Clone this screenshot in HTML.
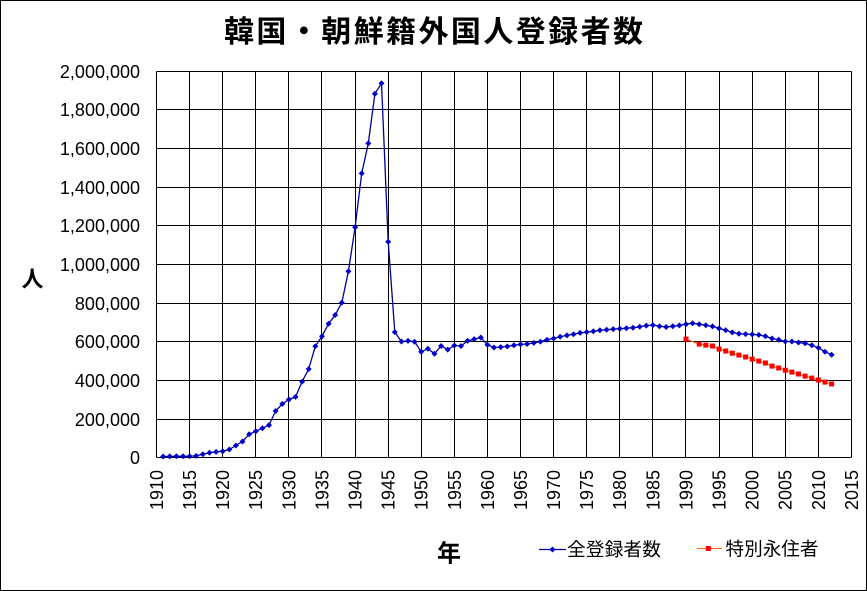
<!DOCTYPE html>
<html><head><meta charset="utf-8"><style>
html,body{margin:0;padding:0;background:#fff;}
svg{display:block;}
.num{font-family:"Liberation Sans",Arial,sans-serif;font-size:18px;fill:#000;}
.jp{font-family:"Liberation Sans","Noto Sans CJK JP",sans-serif;fill:#000;}
</style></head><body>
<svg width="867" height="591" viewBox="0 0 867 591" xmlns="http://www.w3.org/2000/svg">
<rect x="0.5" y="0.5" width="866" height="590" fill="#fff" stroke="#000" stroke-width="1"/>
<text class="jp" x="224" y="42" font-size="30" font-weight="bold" textLength="419" lengthAdjust="spacing">韓国・朝鮮籍外国人登録者数</text>
<g stroke="#000" stroke-width="1" fill="none" shape-rendering="crispEdges">
<path d="M156.5 71.5H851.5M156.5 109.5H851.5M156.5 148.5H851.5M156.5 187.5H851.5M156.5 225.5H851.5M156.5 264.5H851.5M156.5 303.5H851.5M156.5 341.5H851.5M156.5 380.5H851.5M156.5 419.5H851.5M156.5 457.5H851.5"/>
<path d="M156.5 71.5V457.5M189.5 71.5V457.5M222.5 71.5V457.5M255.5 71.5V457.5M288.5 71.5V457.5M321.5 71.5V457.5M355.5 71.5V457.5M388.5 71.5V457.5M421.5 71.5V457.5M454.5 71.5V457.5M487.5 71.5V457.5M520.5 71.5V457.5M553.5 71.5V457.5M586.5 71.5V457.5M619.5 71.5V457.5M652.5 71.5V457.5M685.5 71.5V457.5M719.5 71.5V457.5M752.5 71.5V457.5M785.5 71.5V457.5M818.5 71.5V457.5M851.5 71.5V457.5"/>
</g>
<g class="num" text-anchor="end">
<text x="140" y="78">2,000,000</text>
<text x="140" y="116">1,800,000</text>
<text x="140" y="155">1,600,000</text>
<text x="140" y="194">1,400,000</text>
<text x="140" y="232">1,200,000</text>
<text x="140" y="271">1,000,000</text>
<text x="140" y="310">800,000</text>
<text x="140" y="348">600,000</text>
<text x="140" y="387">400,000</text>
<text x="140" y="426">200,000</text>
<text x="140" y="464">0</text>
</g>
<g class="num" text-anchor="end">
<text transform="translate(156.5,470) rotate(-90)" y="6.4">1910</text>
<text transform="translate(189.6,470) rotate(-90)" y="6.4">1915</text>
<text transform="translate(222.7,470) rotate(-90)" y="6.4">1920</text>
<text transform="translate(255.8,470) rotate(-90)" y="6.4">1925</text>
<text transform="translate(288.9,470) rotate(-90)" y="6.4">1930</text>
<text transform="translate(322.0,470) rotate(-90)" y="6.4">1935</text>
<text transform="translate(355.1,470) rotate(-90)" y="6.4">1940</text>
<text transform="translate(388.2,470) rotate(-90)" y="6.4">1945</text>
<text transform="translate(421.3,470) rotate(-90)" y="6.4">1950</text>
<text transform="translate(454.4,470) rotate(-90)" y="6.4">1955</text>
<text transform="translate(487.5,470) rotate(-90)" y="6.4">1960</text>
<text transform="translate(520.5,470) rotate(-90)" y="6.4">1965</text>
<text transform="translate(553.6,470) rotate(-90)" y="6.4">1970</text>
<text transform="translate(586.7,470) rotate(-90)" y="6.4">1975</text>
<text transform="translate(619.8,470) rotate(-90)" y="6.4">1980</text>
<text transform="translate(652.9,470) rotate(-90)" y="6.4">1985</text>
<text transform="translate(686.0,470) rotate(-90)" y="6.4">1990</text>
<text transform="translate(719.1,470) rotate(-90)" y="6.4">1995</text>
<text transform="translate(752.2,470) rotate(-90)" y="6.4">2000</text>
<text transform="translate(785.3,470) rotate(-90)" y="6.4">2005</text>
<text transform="translate(818.4,470) rotate(-90)" y="6.4">2010</text>
<text transform="translate(851.5,470) rotate(-90)" y="6.4">2015</text>
</g>
<text class="jp" x="32.5" y="287" font-size="22" font-weight="bold" text-anchor="middle">人</text>
<text class="jp" x="449" y="561.5" font-size="24" font-weight="bold" text-anchor="middle">年</text>

<polyline fill="none" stroke="#000099" stroke-width="1.3" stroke-linejoin="round" points="163.1,456.5 169.7,456.4 176.4,456.3 183.0,456.3 189.6,456.2 196.2,455.9 202.8,454.2 209.5,452.7 216.1,451.9 222.7,451.2 229.3,449.5 235.9,445.5 242.5,441.5 249.2,434.2 255.8,431.2 262.4,428.3 269.0,425.1 275.6,411.0 282.3,403.9 288.9,399.5 295.5,396.9 302.1,381.6 308.7,369.0 315.3,346.3 322.0,336.2 328.6,323.7 335.2,315.0 341.8,302.6 348.4,271.4 355.1,227.2 361.7,173.4 368.3,143.4 374.9,93.7 381.5,83.2 388.2,241.7 394.8,332.1 401.4,341.5 408.0,340.9 414.6,341.7 421.2,351.8 427.9,348.8 434.5,353.7 441.1,346.0 447.7,349.6 454.3,345.5 461.0,346.0 467.6,340.9 474.2,339.1 480.8,337.5 487.4,344.8 494.0,347.5 500.7,347.1 507.3,346.4 513.9,345.3 520.5,344.4 527.1,344.0 533.8,342.9 540.4,341.6 547.0,339.8 553.6,338.5 560.2,336.8 566.9,335.4 573.5,334.2 580.1,332.9 586.7,332.1 593.3,331.3 599.9,330.3 606.6,329.8 613.2,329.1 619.8,328.7 626.4,328.2 633.0,327.7 639.7,326.8 646.3,325.6 652.9,325.1 659.5,326.2 666.1,327.0 672.8,326.3 679.4,325.4 686.0,324.2 692.6,323.2 699.2,324.2 705.8,325.3 712.5,326.4 719.1,328.4 725.7,330.2 732.3,332.4 738.9,333.7 745.6,334.1 752.2,334.4 758.8,334.9 765.4,336.3 772.0,338.5 778.7,339.8 785.3,341.5 791.9,341.5 798.5,342.5 805.1,343.3 811.8,345.3 818.4,347.8 825.0,351.7 831.6,354.7"/>
<g fill="#0000cc">
<path d="M163.1,453.5l3,3l-3,3l-3,-3zM169.7,453.4l3,3l-3,3l-3,-3zM176.4,453.3l3,3l-3,3l-3,-3zM183.0,453.3l3,3l-3,3l-3,-3zM189.6,453.2l3,3l-3,3l-3,-3zM196.2,452.9l3,3l-3,3l-3,-3zM202.8,451.2l3,3l-3,3l-3,-3zM209.5,449.7l3,3l-3,3l-3,-3zM216.1,448.9l3,3l-3,3l-3,-3zM222.7,448.2l3,3l-3,3l-3,-3zM229.3,446.5l3,3l-3,3l-3,-3zM235.9,442.5l3,3l-3,3l-3,-3zM242.5,438.5l3,3l-3,3l-3,-3zM249.2,431.2l3,3l-3,3l-3,-3zM255.8,428.2l3,3l-3,3l-3,-3zM262.4,425.3l3,3l-3,3l-3,-3zM269.0,422.1l3,3l-3,3l-3,-3zM275.6,408.0l3,3l-3,3l-3,-3zM282.3,400.9l3,3l-3,3l-3,-3zM288.9,396.5l3,3l-3,3l-3,-3zM295.5,393.9l3,3l-3,3l-3,-3zM302.1,378.6l3,3l-3,3l-3,-3zM308.7,366.0l3,3l-3,3l-3,-3zM315.3,343.3l3,3l-3,3l-3,-3zM322.0,333.2l3,3l-3,3l-3,-3zM328.6,320.7l3,3l-3,3l-3,-3zM335.2,312.0l3,3l-3,3l-3,-3zM341.8,299.6l3,3l-3,3l-3,-3zM348.4,268.4l3,3l-3,3l-3,-3zM355.1,224.2l3,3l-3,3l-3,-3zM361.7,170.4l3,3l-3,3l-3,-3zM368.3,140.4l3,3l-3,3l-3,-3zM374.9,90.7l3,3l-3,3l-3,-3zM381.5,80.2l3,3l-3,3l-3,-3zM388.2,238.7l3,3l-3,3l-3,-3zM394.8,329.1l3,3l-3,3l-3,-3zM401.4,338.5l3,3l-3,3l-3,-3zM408.0,337.9l3,3l-3,3l-3,-3zM414.6,338.7l3,3l-3,3l-3,-3zM421.2,348.8l3,3l-3,3l-3,-3zM427.9,345.8l3,3l-3,3l-3,-3zM434.5,350.7l3,3l-3,3l-3,-3zM441.1,343.0l3,3l-3,3l-3,-3zM447.7,346.6l3,3l-3,3l-3,-3zM454.3,342.5l3,3l-3,3l-3,-3zM461.0,343.0l3,3l-3,3l-3,-3zM467.6,337.9l3,3l-3,3l-3,-3zM474.2,336.1l3,3l-3,3l-3,-3zM480.8,334.5l3,3l-3,3l-3,-3zM487.4,341.8l3,3l-3,3l-3,-3zM494.0,344.5l3,3l-3,3l-3,-3zM500.7,344.1l3,3l-3,3l-3,-3zM507.3,343.4l3,3l-3,3l-3,-3zM513.9,342.3l3,3l-3,3l-3,-3zM520.5,341.4l3,3l-3,3l-3,-3zM527.1,341.0l3,3l-3,3l-3,-3zM533.8,339.9l3,3l-3,3l-3,-3zM540.4,338.6l3,3l-3,3l-3,-3zM547.0,336.8l3,3l-3,3l-3,-3zM553.6,335.5l3,3l-3,3l-3,-3zM560.2,333.8l3,3l-3,3l-3,-3zM566.9,332.4l3,3l-3,3l-3,-3zM573.5,331.2l3,3l-3,3l-3,-3zM580.1,329.9l3,3l-3,3l-3,-3zM586.7,329.1l3,3l-3,3l-3,-3zM593.3,328.3l3,3l-3,3l-3,-3zM599.9,327.3l3,3l-3,3l-3,-3zM606.6,326.8l3,3l-3,3l-3,-3zM613.2,326.1l3,3l-3,3l-3,-3zM619.8,325.7l3,3l-3,3l-3,-3zM626.4,325.2l3,3l-3,3l-3,-3zM633.0,324.7l3,3l-3,3l-3,-3zM639.7,323.8l3,3l-3,3l-3,-3zM646.3,322.6l3,3l-3,3l-3,-3zM652.9,322.1l3,3l-3,3l-3,-3zM659.5,323.2l3,3l-3,3l-3,-3zM666.1,324.0l3,3l-3,3l-3,-3zM672.8,323.3l3,3l-3,3l-3,-3zM679.4,322.4l3,3l-3,3l-3,-3zM686.0,321.2l3,3l-3,3l-3,-3zM692.6,320.2l3,3l-3,3l-3,-3zM699.2,321.2l3,3l-3,3l-3,-3zM705.8,322.3l3,3l-3,3l-3,-3zM712.5,323.4l3,3l-3,3l-3,-3zM719.1,325.4l3,3l-3,3l-3,-3zM725.7,327.2l3,3l-3,3l-3,-3zM732.3,329.4l3,3l-3,3l-3,-3zM738.9,330.7l3,3l-3,3l-3,-3zM745.6,331.1l3,3l-3,3l-3,-3zM752.2,331.4l3,3l-3,3l-3,-3zM758.8,331.9l3,3l-3,3l-3,-3zM765.4,333.3l3,3l-3,3l-3,-3zM772.0,335.5l3,3l-3,3l-3,-3zM778.7,336.8l3,3l-3,3l-3,-3zM785.3,338.5l3,3l-3,3l-3,-3zM791.9,338.5l3,3l-3,3l-3,-3zM798.5,339.5l3,3l-3,3l-3,-3zM805.1,340.3l3,3l-3,3l-3,-3zM811.8,342.3l3,3l-3,3l-3,-3zM818.4,344.8l3,3l-3,3l-3,-3zM825.0,348.7l3,3l-3,3l-3,-3zM831.6,351.7l3,3l-3,3l-3,-3z"/>
</g>

<polyline fill="none" stroke="#ff6600" stroke-width="1" points="686.0,339.1 699.2,344.1 705.8,345.1 712.5,346.0 719.1,349.1 725.7,351.0 732.3,353.2 738.9,355.1 745.6,357.0 752.2,359.1 758.8,361.1 765.4,363.0 772.0,366.1 778.7,368.0 785.3,370.2 791.9,372.1 798.5,374.0 805.1,376.1 811.8,378.1 818.4,380.0 825.0,382.1 831.6,384.0"/>
<g fill="#ff0000">
<rect x="683.5" y="336.6" width="5" height="5"/>
<rect x="696.7" y="341.6" width="5" height="5"/>
<rect x="703.3" y="342.6" width="5" height="5"/>
<rect x="710.0" y="343.5" width="5" height="5"/>
<rect x="716.6" y="346.6" width="5" height="5"/>
<rect x="723.2" y="348.5" width="5" height="5"/>
<rect x="729.8" y="350.7" width="5" height="5"/>
<rect x="736.4" y="352.6" width="5" height="5"/>
<rect x="743.1" y="354.5" width="5" height="5"/>
<rect x="749.7" y="356.6" width="5" height="5"/>
<rect x="756.3" y="358.6" width="5" height="5"/>
<rect x="762.9" y="360.5" width="5" height="5"/>
<rect x="769.5" y="363.6" width="5" height="5"/>
<rect x="776.2" y="365.5" width="5" height="5"/>
<rect x="782.8" y="367.7" width="5" height="5"/>
<rect x="789.4" y="369.6" width="5" height="5"/>
<rect x="796.0" y="371.5" width="5" height="5"/>
<rect x="802.6" y="373.6" width="5" height="5"/>
<rect x="809.3" y="375.6" width="5" height="5"/>
<rect x="815.9" y="377.5" width="5" height="5"/>
<rect x="822.5" y="379.6" width="5" height="5"/>
<rect x="829.1" y="381.5" width="5" height="5"/>
</g>

<line x1="539" y1="549.5" x2="566" y2="549.5" stroke="#000099" stroke-width="1.3"/>
<path d="M552.5,546.5l3,3l-3,3l-3,-3z" fill="#0000cc"/>
<text class="jp" x="567" y="556" font-size="18.5" textLength="94" lengthAdjust="spacingAndGlyphs">全登録者数</text>
<line x1="697" y1="548.5" x2="722" y2="548.5" stroke="#ff6600" stroke-width="1"/>
<rect x="705.8" y="546" width="5" height="5" fill="#ff0000"/>
<text class="jp" x="725.5" y="555.5" font-size="18.5" textLength="93" lengthAdjust="spacingAndGlyphs">特別永住者</text>
</svg>
</body></html>
